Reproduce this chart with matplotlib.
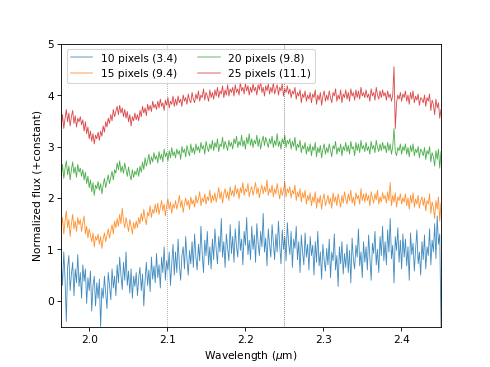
import numpy as np
import matplotlib
matplotlib.use("Agg")
import matplotlib.pyplot as plt
from matplotlib.colors import to_rgb

# wavelength grid (microns), uniformly sampled
wl_start, wl_end, n_pts = 1.964, 2.451, 300

labels = ["10 pixels (3.4)", "15 pixels (9.4)", "20 pixels (9.8)", "25 pixels (11.1)"]

flux_10 = [
    0.78, 0.30, 0.95, 0.42, -0.40, 0.65, 0.88, 0.20, 0.52, 0.75, 0.10, 0.62, 0.35, 0.90, 0.28,
    0.55, 0.05, 0.70, 0.38, 0.62, -0.05, 0.45, 0.20, 0.58, -0.20, 0.30, 0.48, -0.10, 0.35, 0.05,
    0.42, -0.50, 0.25, 0.05, 0.48, 0.15, -0.15, 0.55, 0.30, 0.02, 0.62, 0.25, 0.48, 0.10, 0.70,
    0.35, 0.85, 0.50, 0.22, 0.75, 0.40, 0.95, 0.30, 0.58, 0.15, 0.62, 0.05, 0.48, 0.28, 0.55,
    0.10, 0.45, 0.65, 0.20, 0.52, -0.10, 0.40, 0.75, 0.30, 0.60, 0.18, 0.85, 0.42, 0.68, 0.35,
    0.92, 0.45, 0.70, 0.25, 0.85, 0.55, 1.05, 0.40, 0.78, 0.60, 0.95, 0.30, 0.72, 1.10, 0.50,
    0.95, 0.55, 1.20, 0.70, 0.40, 0.88, 1.05, 0.62, 1.25, 0.80, 0.50, 0.98, 0.72, 1.15, 0.65,
    1.30, 0.85, 0.60, 1.10, 0.78, 1.45, 0.92, 0.55, 1.18, 0.88, 1.35, 0.70, 1.05, 0.62, 1.20,
    0.80, 1.40, 1.00, 0.72, 1.25, 0.95, 1.60, 0.85, 1.15, 0.65, 1.30, 1.02, 0.78, 1.48, 0.92,
    1.25, 0.75, 1.40, 1.05, 0.85, 1.55, 0.98, 1.20, 0.70, 1.35, 1.08, 1.62, 0.90, 1.18, 0.80,
    1.45, 1.00, 1.28, 0.75, 1.50, 1.12, 0.88, 1.35, 1.05, 1.70, 0.95, 1.22, 0.68, 1.40, 1.10,
    0.85, 1.48, 1.15, 0.80, 1.30, 0.95, 1.55, 1.08, 0.72, 1.38, 1.00, 1.25, 0.78, 1.52, 1.12,
    0.90, 1.35, 0.65, 1.20, 1.02, 1.45, 0.80, 1.15, 0.55, 1.28, 0.95, 0.70, 1.32, 0.85, 1.10,
    0.60, 1.25, 0.88, 1.08, 0.50, 1.15, 0.75, 1.35, 0.68, 0.95, 0.42, 1.10, 0.80, 0.58, 1.02,
    0.70, 1.20, 0.45, 0.95, 0.78, 1.30, 0.60, 0.88, 0.28, 1.05, 0.72, 1.15, 0.52, 0.92, 0.65,
    1.10, 0.55, 0.98, 0.35, 1.22, 0.80, 0.62, 1.08, 0.85, 1.40, 0.68, 0.95, 0.45, 1.15, 0.75,
    1.05, 0.60, 1.28, 0.82, 0.40, 1.12, 0.92, 1.35, 0.70, 1.00, 0.55, 1.25, 0.88, 1.45, 0.78,
    1.15, 0.70, 1.38, 0.95, 1.60, 0.82, 1.08, 0.35, 1.25, 0.98, 1.42, 0.75, 1.18, 0.62, 1.30,
    0.85, 1.20, 0.68, 1.05, 0.40, 1.32, 0.90, 1.12, 0.58, 1.00, 1.38, 0.72, 0.95, 0.50, 1.15,
    0.80, 1.28, 0.62, 1.05, 0.88, 1.40, 0.70, 1.18, 0.95, 1.50, 0.82, 1.65, 1.10, 1.30, -0.50,
]

flux_15 = [
    1.38, 1.62, 1.30, 1.55, 1.75, 1.42, 1.58, 1.25, 1.50, 1.68, 1.40, 1.55, 1.35, 1.62, 1.48,
    1.58, 1.35, 1.52, 1.65, 1.30, 1.45, 1.22, 1.40, 1.28, 1.15, 1.32, 1.05, 1.25, 1.18, 1.30,
    1.10, 1.25, 1.02, 1.20, 1.32, 1.15, 1.28, 1.40, 1.22, 1.35, 1.48, 1.30, 1.55, 1.42, 1.60,
    1.45, 1.68, 1.50, 1.80, 1.55, 1.42, 1.62, 1.48, 1.35, 1.58, 1.45, 1.30, 1.52, 1.40, 1.55,
    1.42, 1.62, 1.50, 1.70, 1.55, 1.78, 1.60, 1.48, 1.72, 1.65, 1.85, 1.62, 1.78, 1.70, 1.88,
    1.72, 1.90, 1.68, 1.82, 1.95, 1.75, 1.88, 1.65, 1.85, 1.98, 1.78, 1.92, 1.70, 1.88, 1.80,
    1.95, 1.78, 1.90, 2.05, 1.82, 1.95, 1.72, 1.88, 2.00, 1.85, 1.95, 1.78, 2.02, 1.88, 1.96,
    1.82, 2.05, 1.90, 1.98, 2.12, 1.85, 2.00, 1.92, 2.08, 1.88, 2.02, 1.95, 2.15, 1.90, 2.05,
    1.95, 2.10, 1.92, 2.05, 2.20, 1.98, 2.12, 1.90, 2.08, 2.18, 2.00, 2.12, 1.95, 2.22, 2.05,
    2.15, 2.02, 2.25, 2.08, 2.18, 1.98, 2.20, 2.10, 2.30, 2.05, 2.18, 2.12, 2.28, 2.02, 2.15,
    2.22, 2.05, 2.18, 2.30, 2.08, 2.20, 2.00, 2.15, 2.25, 2.08, 2.22, 2.12, 2.35, 2.05, 2.18,
    2.10, 2.25, 2.02, 2.18, 2.08, 2.28, 2.12, 1.98, 2.20, 2.05, 2.15, 2.32, 2.02, 2.18, 2.10,
    2.22, 2.00, 2.15, 2.08, 2.25, 1.95, 2.12, 2.02, 2.18, 1.92, 2.10, 2.00, 2.15, 1.88, 2.05,
    1.95, 2.10, 1.85, 2.02, 1.92, 2.12, 1.80, 2.00, 1.90, 2.05, 1.78, 1.98, 2.08, 1.85, 1.95,
    2.05, 1.88, 2.00, 1.80, 2.10, 1.92, 2.02, 1.85, 2.08, 1.95, 1.82, 2.05, 1.90, 2.12, 1.98,
    1.88, 2.08, 1.95, 2.15, 1.90, 2.02, 1.85, 2.10, 1.98, 2.05, 1.88, 2.18, 1.95, 2.08, 1.92,
    2.10, 1.95, 2.05, 1.85, 2.12, 2.00, 1.90, 2.08, 1.96, 2.15, 1.88, 2.02, 1.92, 2.10, 1.98,
    2.05, 1.90, 2.12, 1.95, 2.30, 1.85, 2.05, 1.92, 2.10, 1.82, 2.02, 1.95, 2.08, 1.88, 2.00,
    1.92, 2.08, 1.85, 2.00, 1.78, 2.05, 1.90, 2.10, 1.82, 1.98, 1.88, 2.05, 1.80, 1.95, 2.02,
    1.85, 2.00, 1.75, 1.95, 1.88, 2.08, 1.70, 1.92, 1.82, 1.60, 1.95, 1.78, 2.02, 1.55, 1.90,
]

flux_20 = [
    2.42, 2.65, 2.38, 2.58, 2.72, 2.45, 2.62, 2.35, 2.55, 2.70, 2.48, 2.60, 2.40, 2.65, 2.50,
    2.58, 2.42, 2.55, 2.35, 2.50, 2.28, 2.42, 2.20, 2.35, 2.12, 2.30, 2.05, 2.25, 2.18, 2.32,
    2.15, 2.28, 2.08, 2.25, 2.38, 2.20, 2.32, 2.45, 2.28, 2.40, 2.52, 2.35, 2.55, 2.48, 2.68,
    2.55, 2.72, 2.50, 2.62, 2.48, 2.68, 2.55, 2.42, 2.60, 2.45, 2.35, 2.55, 2.40, 2.52, 2.45,
    2.58, 2.42, 2.62, 2.50, 2.70, 2.55, 2.78, 2.62, 2.72, 2.85, 2.65, 2.80, 2.70, 2.88, 2.75,
    2.82, 2.68, 2.90, 2.75, 2.85, 2.70, 2.95, 2.80, 2.88, 2.72, 2.92, 2.78, 2.98, 2.82, 2.90,
    2.78, 2.95, 2.85, 2.92, 2.75, 3.00, 2.88, 2.95, 2.80, 3.02, 2.90, 2.82, 3.05, 2.88, 2.98,
    2.85, 3.05, 2.92, 3.00, 2.88, 3.08, 2.95, 3.02, 2.85, 3.10, 2.98, 2.90, 3.05, 2.95, 3.12,
    2.92, 3.08, 2.98, 3.15, 2.90, 3.05, 3.00, 3.18, 2.95, 3.10, 3.02, 2.92, 3.12, 3.00, 3.08,
    2.95, 3.15, 3.05, 3.20, 2.98, 3.10, 3.02, 3.22, 3.00, 3.12, 2.95, 3.18, 3.05, 3.25, 3.02,
    3.15, 2.98, 3.12, 3.05, 3.22, 3.00, 3.15, 2.95, 3.10, 3.20, 3.02, 3.18, 3.08, 2.98, 3.15,
    3.05, 3.20, 2.98, 3.12, 3.02, 3.25, 3.00, 3.10, 2.95, 3.15, 3.05, 3.22, 2.98, 3.12, 3.05,
    3.15, 2.95, 3.10, 3.00, 3.18, 2.92, 3.05, 2.98, 3.12, 2.88, 3.02, 2.95, 3.08, 2.85, 3.00,
    2.90, 3.05, 2.82, 3.00, 2.92, 3.08, 2.80, 2.98, 2.88, 3.02, 2.78, 2.95, 3.05, 2.85, 2.98,
    2.88, 3.05, 2.92, 2.80, 3.02, 2.95, 3.10, 2.85, 2.98, 2.90, 3.05, 2.82, 3.00, 2.92, 3.08,
    2.90, 3.02, 2.85, 3.10, 2.95, 3.00, 2.82, 3.08, 2.92, 3.05, 2.88, 3.12, 2.95, 3.02, 2.90,
    3.08, 2.92, 3.00, 2.85, 3.10, 2.95, 3.02, 2.88, 3.12, 2.98, 2.90, 3.05, 2.92, 3.08, 2.95,
    3.02, 2.88, 3.08, 2.92, 3.05, 2.85, 3.00, 3.35, 2.90, 2.82, 2.98, 2.92, 3.05, 2.85, 3.00,
    2.92, 3.05, 2.85, 2.98, 2.80, 3.02, 2.90, 3.05, 2.82, 2.95, 2.88, 3.00, 2.78, 2.95, 2.90,
    2.82, 2.98, 2.75, 2.92, 2.85, 3.00, 2.70, 2.88, 2.80, 2.62, 2.92, 2.75, 2.95, 2.58, 2.90,
]

flux_25 = [
    3.38, 3.62, 3.35, 3.55, 3.72, 3.48, 3.65, 3.40, 3.58, 3.70, 3.45, 3.60, 3.38, 3.55, 3.48,
    3.58, 3.42, 3.52, 3.30, 3.48, 3.25, 3.38, 3.15, 3.30, 3.10, 3.25, 3.05, 3.22, 3.15, 3.28,
    3.12, 3.30, 3.20, 3.40, 3.28, 3.48, 3.38, 3.55, 3.45, 3.62, 3.50, 3.72, 3.58, 3.68, 3.78,
    3.62, 3.80, 3.65, 3.75, 3.58, 3.72, 3.55, 3.68, 3.48, 3.62, 3.40, 3.58, 3.50, 3.65, 3.52,
    3.62, 3.50, 3.70, 3.58, 3.78, 3.65, 3.75, 3.60, 3.82, 3.70, 3.80, 3.68, 3.88, 3.75, 3.82,
    3.72, 3.88, 3.75, 3.92, 3.78, 3.85, 3.70, 3.90, 3.80, 3.95, 3.75, 3.88, 3.82, 3.98, 3.78,
    3.92, 3.80, 3.98, 3.85, 3.92, 3.78, 4.00, 3.88, 3.95, 3.82, 4.02, 3.90, 3.85, 4.05, 3.92,
    3.85, 4.02, 3.92, 4.08, 3.88, 4.00, 3.95, 4.12, 3.90, 4.05, 3.98, 3.88, 4.10, 3.95, 4.05,
    3.92, 4.10, 3.98, 4.15, 3.95, 4.08, 4.02, 4.18, 3.95, 4.10, 4.00, 4.20, 3.98, 4.12, 4.05,
    4.15, 3.98, 4.20, 4.05, 4.12, 4.00, 4.25, 4.08, 4.15, 4.02, 4.22, 4.08, 4.18, 4.00, 4.15,
    4.05, 4.22, 4.08, 4.15, 4.00, 4.20, 4.10, 4.28, 4.05, 4.15, 3.98, 4.18, 4.08, 4.22, 4.02,
    4.15, 4.05, 4.25, 4.02, 4.12, 4.20, 4.00, 4.15, 4.08, 4.22, 3.98, 4.12, 4.05, 4.18, 4.02,
    4.12, 3.95, 4.08, 4.02, 4.15, 3.92, 4.05, 3.98, 4.10, 3.85, 4.02, 3.95, 4.08, 3.88, 4.00,
    3.92, 4.05, 3.85, 4.02, 3.95, 4.10, 3.82, 4.00, 3.90, 4.05, 3.80, 3.98, 4.08, 3.88, 4.00,
    3.90, 4.08, 3.95, 3.85, 4.05, 3.98, 4.12, 3.88, 4.00, 3.92, 4.10, 3.85, 4.02, 3.95, 4.10,
    3.92, 4.05, 3.88, 4.12, 3.98, 4.05, 3.90, 4.10, 3.95, 4.08, 3.92, 4.15, 3.98, 4.05, 3.95,
    4.10, 3.95, 4.02, 3.88, 4.12, 3.98, 4.05, 3.90, 4.15, 4.00, 3.92, 4.08, 3.95, 4.10, 3.98,
    4.05, 3.90, 4.08, 3.95, 4.02, 3.88, 4.00, 4.55, 3.35, 3.85, 4.00, 3.92, 4.05, 3.88, 4.02,
    3.95, 4.08, 3.88, 4.00, 3.82, 4.05, 3.92, 4.08, 3.85, 3.98, 3.90, 4.02, 3.80, 3.95, 3.92,
    3.85, 4.00, 3.78, 3.95, 3.88, 4.02, 3.70, 3.90, 3.82, 3.62, 3.92, 3.75, 3.85, 3.55, 3.72,
]

series = [flux_10, flux_15, flux_20, flux_25]
colors = ["#1f77b4", "#ff7f0e", "#2ca02c", "#d62728"]
vlines = [2.1, 2.25]

wl = np.linspace(wl_start, wl_end, n_pts)

fig, ax = plt.subplots(figsize=(6.4, 4.8), dpi=76.5625)
for f, c, lab in zip(series, colors, labels):
    ax.plot(wl, f, color=c, lw=0.8, alpha=0.85, label=lab)

ax.axvline(vlines[0], color="0.5", lw=0.7, ls=":", zorder=3)
ax.axvline(vlines[1], color="0.25", lw=0.7, ls=":", zorder=3)

ax.set_xlim(wl_start, wl_end)
ax.set_ylim(-0.5, 5)
ax.set_xlabel(r"Wavelength ($\mu$m)")
ax.set_ylabel("Normalized flux (+constant)")
leg = ax.legend(loc="upper left", ncol=2)
for h, c in zip(leg.legend_handles, colors):
    rgb = np.array(to_rgb(c))
    h.set_color(tuple(1 - 0.45 * (1 - rgb)))
    h.set_alpha(1)
    h.set_linewidth(1.5)

fig.savefig("out.png", dpi=76.5625)
